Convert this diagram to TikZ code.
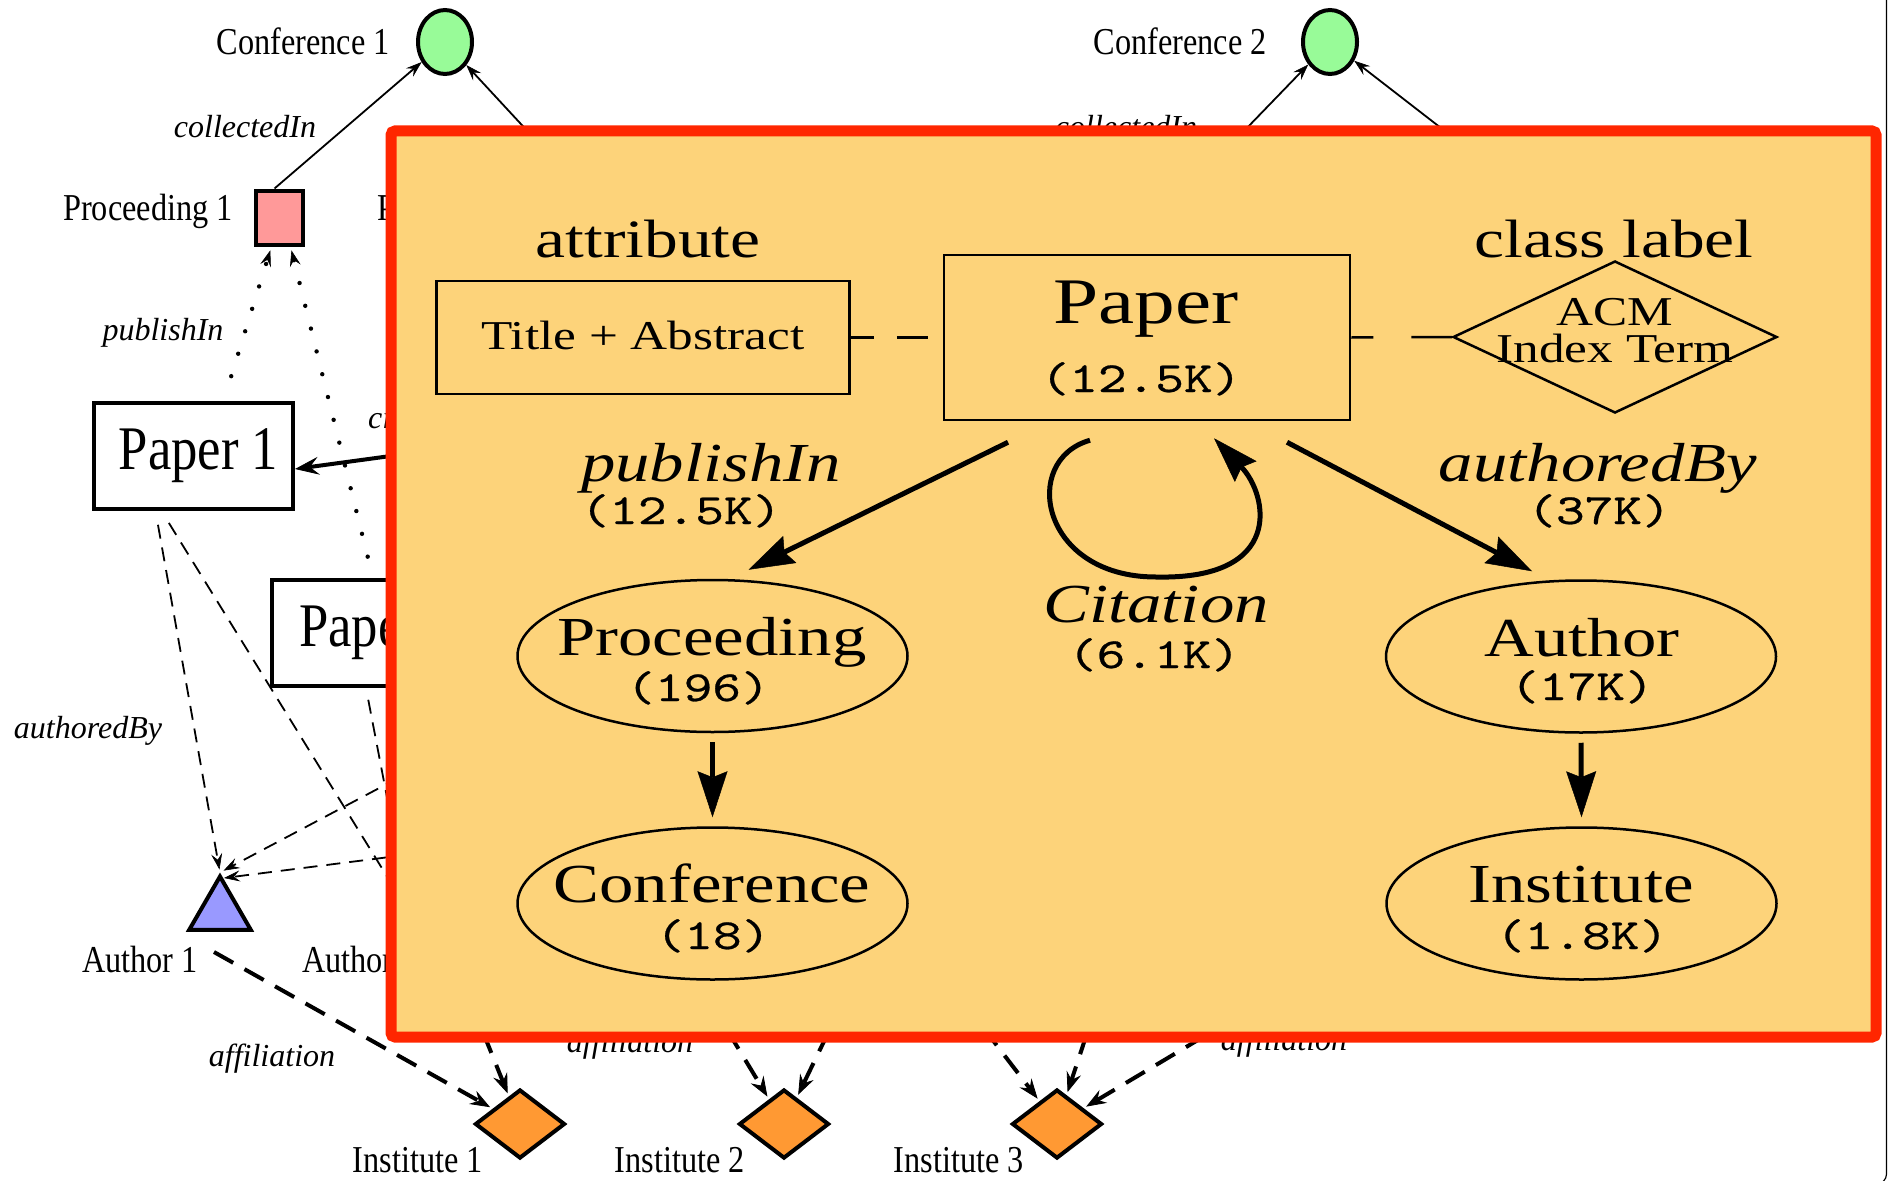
\documentclass[tikz,border=0pt]{standalone}
\usepackage{fontspec}
\setmainfont{Liberation Serif}
\newfontfamily\narrowserif[FakeStretch=0.85]{Liberation Serif}
\newfontfamily\paperserif[FakeStretch=0.85]{Liberation Serif}
\newfontfamily\wideserif[FakeStretch=1.25]{Liberation Serif}
\newfontfamily\widemono[Extension=.otf,FakeStretch=1.27,FakeBold=0.6]{lmmono10-regular}
\usetikzlibrary{arrows.meta,shapes.geometric}

\definecolor{panelfill}{RGB}{253,211,122}
\definecolor{panelred}{RGB}{255,38,0}
\definecolor{confgreen}{RGB}{152,251,152}
\definecolor{procpink}{RGB}{255,153,153}
\definecolor{authblue}{RGB}{153,153,255}
\definecolor{instorange}{RGB}{255,153,51}

\begin{document}
\begin{tikzpicture}[x=1pt,y=-1pt,
  % instance graph
  outerlbl/.style={font=\narrowserif\fontsize{38}{40}\selectfont, inner sep=0pt},
  edgelbl/.style={font=\itshape\fontsize{32}{34}\selectfont, inner sep=0pt},
  thickframe/.style={draw=black, line width=4pt},
  confnode/.style={thickframe, ellipse, fill=confgreen, minimum width=54pt, minimum height=64pt, inner sep=0pt},
  procnode/.style={thickframe, rectangle, fill=procpink, minimum width=47pt, minimum height=54pt, inner sep=0pt},
  papernode/.style={thickframe, rectangle, fill=white, minimum width=199pt, minimum height=106pt, inner sep=0pt, font=\paperserif\fontsize{62}{64}\selectfont},
  authnode/.style={thickframe, regular polygon, regular polygon sides=3, fill=authblue, minimum size=71pt, inner sep=0pt},
  instnode/.style={thickframe, diamond, fill=instorange, minimum width=90pt, minimum height=69pt, inner sep=0pt},
  smalltip/.style={-{Stealth[length=16pt,width=11pt,inset=6pt,line width=0.6pt]}},
  solidlink/.style={line width=1.8pt, smalltip},
  dotlink/.style={line width=4.4pt, line cap=round, dash pattern=on 0pt off 23.5pt, smalltip},
  dashlink/.style={line width=1.8pt, dash pattern=on 14pt off 9pt, smalltip},
  afflink/.style={line width=4pt, dash pattern=on 22pt off 13pt, -{Stealth[length=20pt,width=15pt,inset=7pt,line width=0.8pt]}},
  citelink/.style={line width=4pt, -{Stealth[length=24pt,width=18pt,inset=9pt,line width=0.8pt]}},
  % schema panel
  panel/.style={draw=panelred, fill=panelfill, line width=11pt, rounded corners=4pt},
  thinframe/.style={draw=black, line width=2.5pt},
  attrbox/.style={thinframe, rectangle, minimum width=413pt, minimum height=113pt, inner sep=0pt, font=\wideserif\fontsize{41}{44}\selectfont},
  classbox/.style={thinframe, rectangle, minimum width=406pt, minimum height=165pt, inner sep=0pt},
  labeldiamond/.style={thinframe, diamond, minimum width=324pt, minimum height=152pt, inner sep=0pt},
  entity/.style={thinframe, ellipse, minimum width=390pt, minimum height=152pt, inner sep=0pt},
  headtxt/.style={font=\wideserif\fontsize{54}{58}\selectfont, inner sep=0pt, anchor=base},
  nametxt/.style={font=\wideserif\fontsize{55}{58}\selectfont, inner sep=0pt, anchor=base},
  papertxt/.style={font=\wideserif\fontsize{65}{68}\selectfont, inner sep=0pt, anchor=base},
  reltxt/.style={font=\wideserif\itshape\fontsize{55}{58}\selectfont, inner sep=0pt, anchor=base},
  counttxt/.style={font=\widemono\fontsize{43}{46}\selectfont, inner sep=0pt, anchor=base},
  acmtxt/.style={font=\wideserif\fontsize{41}{42}\selectfont, inner sep=0pt, anchor=base},
  bigarrow/.style={line width=5pt, -{Stealth[length=46pt,width=30pt,inset=6pt,line width=0.5pt]}},
  attrlink/.style={line width=2.5pt}
]
\useasboundingbox (0,0) rectangle (1889,1180);

% page frame, right edge
\draw[line width=1.2pt, rounded corners=10pt] (1886.5,-10) -- (1886.5,1184) -- (1860,1184);

% ---------- instance graph ----------
\node[confnode] (conf1) at (445,42) {};
\node[confnode] (conf2) at (1330,42) {};
\node[procnode] (proc1) at (279.5,217.5) {};
\node[papernode] (paper1) at (193.5,456) {\hspace*{10pt}Paper 1};
\node[papernode, minimum width=206pt] (paper2) at (375,633) {\hspace*{8pt}Paper 2};
\node[authnode] (auth1) at (220,912) {};
\node[instnode] (inst1) at (520,1124) {};
\node[instnode] (inst2) at (784,1124) {};
\node[instnode] (inst3) at (1057,1124) {};

% ends lying under the schema panel
\coordinate (proc2) at (582,190);
\coordinate (proc3) at (1187,190);
\coordinate (proc4) at (1521,190);
\coordinate (paper3) at (560,433);
\coordinate (paper4) at (500,843);
\coordinate (paper5) at (500,724);
\coordinate (auth2a) at (417,925);
\coordinate (auth2b) at (400,865);
\coordinate (auth2c) at (470,1000);
\coordinate (auth3a) at (709,1000);
\coordinate (auth3b) at (844,1000);
\coordinate (auth4a) at (962,1000);
\coordinate (auth4b) at (1098,1000);
\coordinate (auth4c) at (1265,1000);

% node names
\node[outerlbl, anchor=base east] (lconf1) at (390,55) {Conference 1};
\node[outerlbl, anchor=base east] (lconf2) at (1267,55) {Conference 2};
\node[outerlbl, anchor=base east] (lproc1) at (233,220) {Proceeding 1};
\node[outerlbl, anchor=base west] (lproc2) at (377,220) {Proceeding 2};
\node[outerlbl, anchor=base west] (lauth1) at (82,972) {Author 1};
\node[outerlbl, anchor=base west] (lauth2) at (302,972) {Author 2};
\node[outerlbl, anchor=base] (linst1) at (418,1172) {Institute 1};
\node[outerlbl, anchor=base] (linst2) at (680,1172) {Institute 2};
\node[outerlbl, anchor=base] (linst3) at (959,1172) {Institute 3};

% relation names
\node[edgelbl, anchor=base] (lcoll1) at (245,138) {collectedIn};
\node[edgelbl, anchor=base] (lcoll2) at (1126,138) {collectedIn};
\node[edgelbl, anchor=base] (lpub) at (163,340) {publishIn};
\node[edgelbl, anchor=base] (lauthby) at (88,738) {authoredBy};
\node[edgelbl, anchor=base west] (lcite) at (368,428) {citation};
\node[edgelbl, anchor=base] (laff1) at (272,1066) {affiliation};
\node[edgelbl, anchor=base] (laff2) at (630,1052) {affiliation};
\node[edgelbl, anchor=base] (laff3) at (1284,1050) {affiliation};

% collectedIn
\draw[solidlink] ([xshift=-5pt]proc1.north) -- (conf1);
\draw[solidlink] (proc2) -- (conf1);
\draw[solidlink] (proc3) -- (conf2);
\draw[solidlink] (proc4) -- (conf2);

% publishIn
\draw[dotlink, shorten <=26pt, shorten >=4pt] ([xshift=30pt]paper1.north) -- ([xshift=-8pt]proc1.south);
\draw[dotlink, shorten <=22pt, shorten >=4pt] ([xshift=-2pt]paper2.north) -- ([xshift=11pt]proc1.south);

% citation
\draw[citelink] (paper3) -- ([yshift=-13pt]paper1.east);

% authoredBy
\draw[dashlink, shorten <=14pt, shorten >=3pt] ([xshift=-38pt]paper1.south) -- (auth1.corner 1);
\draw[dashlink, shorten <=14pt] ([xshift=-32pt]paper1.south) -- (auth2a);
\draw[dashlink, shorten <=12pt] ([xshift=-9pt]paper2.south) -- (auth2b);
\draw[dashlink, shorten >=4pt] (paper4) -- ([yshift=-6pt]auth1.corner 1);
\draw[dashlink, shorten >=4pt] (paper5) -- (auth1.corner 1);

% affiliation
\draw[afflink, shorten >=3pt] ([xshift=-6pt,yshift=-40pt]auth1.center) -- (inst1);
\draw[afflink, shorten >=3pt] (auth2c) -- (inst1);
\draw[afflink, shorten >=3pt] (auth3a) -- (inst2);
\draw[afflink, shorten >=3pt] (auth3b) -- (inst2);
\draw[afflink, shorten >=3pt] (auth4a) -- (inst3);
\draw[afflink, shorten >=3pt] (auth4b) -- (inst3);
\draw[afflink, shorten >=3pt] (auth4c) -- (inst3);

% ---------- schema panel ----------
\draw[panel] (391,131) rectangle (1876,1037);

\node[attrbox] (title) at (643,337.5) {\raisebox{4pt}{Title + Abstract}};
\node[classbox] (paperc) at (1147,337.5) {};
\node[labeldiamond] (acm) at (1615,337) {};
\node[entity] (proc) at (712.5,656) {};
\node[entity] (confc) at (712.5,903.5) {};
\node[entity] (auth) at (1581,656.5) {};
\node[entity] (inst) at (1581.5,903.5) {};

\node[headtxt] (hattr) at (648,257) {attribute};
\node[headtxt] (hclass) at (1614,257) {class label};
\node[papertxt] (tpaper) at (1146,323) {Paper};
\node[counttxt] (npaper) at (1141,392) {(12.5K)};
\node[acmtxt] (tacm) at (1615,325) {ACM};
\node[acmtxt] (tindex) at (1615,362) {Index Term};
\node[nametxt] (tproc) at (712,655) {Proceeding};
\node[counttxt] (nproc) at (698,701) {(196)};
\node[nametxt] (tconf) at (712,902) {Conference};
\node[counttxt] (nconf) at (713,949) {(18)};
\node[nametxt] (tauth) at (1582,656) {Author};
\node[counttxt] (nauth) at (1582,700) {(17K)};
\node[nametxt] (tinst) at (1581,902) {Institute};
\node[counttxt] (ninst) at (1582,949) {(1.8K)};
\node[reltxt] (rpub) at (711,481) {publishIn};
\node[counttxt] (npub) at (681,524) {(12.5K)};
\node[reltxt] (rauth) at (1598,481) {authoredBy};
\node[counttxt] (nauthby) at (1599,524) {(37K)};
\node[reltxt] (rcite) at (1156,622) {Citation};
\node[counttxt] (ncite) at (1154,668) {(6.1K)};

\draw[attrlink, dash pattern=on 23pt off 23pt on 31pt off 15pt] (title.east) -- (paperc.west);
\draw[attrlink, dash pattern=on 22pt off 38pt on 42pt off 2pt] (paperc.east) -- (acm.west);

\draw[bigarrow] ([xshift=-139pt,yshift=-21pt]paperc.south) -- ([xshift=36pt,yshift=9pt]proc.north);
\draw[bigarrow] ([xshift=140pt,yshift=-21pt]paperc.south) -- ([xshift=-49pt,yshift=8pt]auth.north);
\draw[bigarrow] ([yshift=-9pt]proc.south) -- ([yshift=9pt]confc.north);
\draw[bigarrow] ([yshift=-9pt]auth.south) -- ([yshift=9pt]inst.north);
\draw[bigarrow] ([xshift=-57pt,yshift=-19pt]paperc.south)
  .. controls (1020,460) and (1040,577) .. (1156,577)
  .. controls (1285,580) and (1268,495) .. ([xshift=67pt,yshift=-17pt]paperc.south);
\end{tikzpicture}
\end{document}
